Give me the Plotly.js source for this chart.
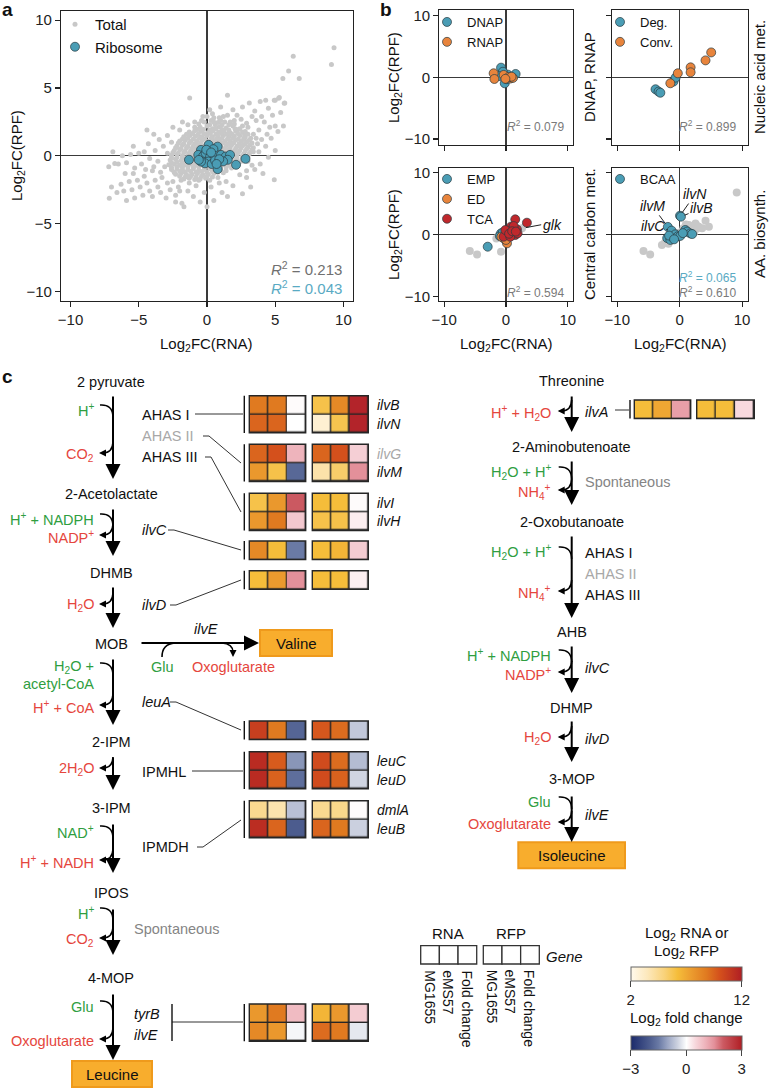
<!DOCTYPE html>
<html><head><meta charset="utf-8">
<script src="https://cdn.plot.ly/plotly-3.0.1.min.js"></script>
<style>html,body{margin:0;padding:0;background:#fff}#chart{width:770px;height:1088px}</style>
</head><body><div id="chart"></div>
<script>
// ================= DATA =================
// Panel a: all genes (Log2FC RNA, Log2FC RPF)
const totalPoints = [
[-0.5,2.1],[0.0,2.2],[0.4,2.0],[0.9,2.15],[1.4,2.05],[1.9,2.2],[2.3,1.95],
[-1.3,1.75],[-0.9,1.85],[-0.45,1.8],[0.05,1.7],[0.45,1.85],[0.85,1.75],[1.25,1.8],[1.7,1.7],[2.1,1.85],[2.6,1.75],[3.0,1.6],
[-1.7,1.4],[-1.25,1.5],[-0.85,1.45],[-0.4,1.4],[0.0,1.5],[0.4,1.4],[0.8,1.45],[1.2,1.5],[1.6,1.4],[2.0,1.45],[2.4,1.5],[2.8,1.35],[3.2,1.3],
[-2.0,1.1],[-1.6,1.15],[-1.2,1.05],[-0.75,1.1],[-0.35,1.15],[0.1,1.05],[0.5,1.1],[0.9,1.15],[1.3,1.05],[1.7,1.1],[2.1,1.15],[2.5,1.05],[2.9,1.0],[3.3,0.95],
[-2.2,0.75],[-1.8,0.8],[-1.4,0.7],[-1.0,0.75],[-0.6,0.8],[-0.2,0.7],[0.2,0.75],[0.6,0.8],[1.0,0.7],[1.4,0.75],[1.8,0.8],[2.2,0.7],[2.6,0.75],[3.0,0.65],[3.4,0.6],
[-2.4,0.4],[-2.0,0.45],[-1.6,0.35],[-1.2,0.4],[-0.8,0.45],[-0.4,0.35],[0.0,0.4],[0.4,0.45],[0.8,0.35],[1.2,0.4],[1.6,0.45],[2.0,0.35],[2.4,0.4],[2.8,0.35],[3.2,0.3],
[-2.6,0.05],[-2.2,0.1],[-1.8,0.0],[-1.4,0.05],[-1.0,0.1],[-0.6,0.0],[-0.2,0.05],[0.2,0.1],[0.6,0.0],[1.0,0.05],[1.4,0.1],[1.8,0.0],[2.2,0.05],[2.6,0.0],[3.0,-0.05],
[-2.7,-0.3],[-2.3,-0.25],[-1.9,-0.35],[-1.5,-0.3],[-1.1,-0.25],[-0.7,-0.35],[-0.3,-0.3],[0.1,-0.25],[0.5,-0.35],[0.9,-0.3],[1.3,-0.25],[1.7,-0.35],[2.1,-0.3],[2.5,-0.4],
[-2.8,-0.65],[-2.4,-0.6],[-2.0,-0.7],[-1.6,-0.65],[-1.2,-0.6],[-0.8,-0.7],[-0.4,-0.65],[0.0,-0.6],[0.4,-0.7],[0.8,-0.65],[1.2,-0.6],[1.6,-0.7],[2.0,-0.75],
[-2.6,-1.0],[-2.2,-0.95],[-1.8,-1.05],[-1.4,-1.0],[-1.0,-0.95],[-0.6,-1.05],[-0.2,-1.0],[0.2,-0.95],[0.6,-1.05],[1.0,-1.0],[1.4,-1.1],
[-2.3,-1.35],[-1.9,-1.3],[-1.5,-1.4],[-1.1,-1.35],[-0.7,-1.3],[-0.3,-1.4],[0.1,-1.35],[0.5,-1.3],
[-1.7,-1.7],[-1.3,-1.65],[-0.9,-1.75],[-0.5,-1.7],[-0.1,-1.65],
[-0.2,2.5],[0.3,2.6],[0.8,2.45],[1.3,2.5],[0.0,2.9],[-0.6,2.35],
[-0.7,1.95],[-0.25,1.95],[0.2,1.9],[0.65,2.0],[1.1,1.95],[1.6,1.9],[2.05,2.0],
[-1.5,1.6],[-1.05,1.65],[-0.65,1.6],[-0.2,1.6],[0.25,1.65],[0.65,1.6],[1.05,1.65],[1.45,1.6],[1.85,1.6],[2.25,1.65],[2.75,1.55],
[-1.8,1.25],[-1.4,1.3],[-1.0,1.25],[-0.55,1.3],[-0.15,1.25],[0.3,1.3],[0.7,1.25],[1.1,1.3],[1.5,1.25],[1.9,1.3],[2.3,1.25],[2.7,1.2],[3.1,1.15],
[-2.1,0.95],[-1.7,0.9],[-1.3,0.95],[-0.9,0.9],[-0.45,0.95],[-0.05,0.9],[0.35,0.95],[0.75,0.9],[1.15,0.95],[1.55,0.9],[1.95,0.95],[2.35,0.9],[2.75,0.85],[3.15,0.8],
[-2.3,0.6],[-1.9,0.55],[-1.5,0.6],[-1.1,0.55],[-0.7,0.6],[-0.3,0.55],[0.1,0.6],[0.5,0.55],[0.9,0.6],[1.3,0.55],[1.7,0.6],[2.1,0.55],[2.5,0.6],[2.9,0.5],[3.3,0.45],
[-2.5,0.25],[-2.1,0.2],[-1.7,0.25],[-1.3,0.2],[-0.9,0.25],[-0.5,0.2],[-0.1,0.25],[0.3,0.2],[0.7,0.25],[1.1,0.2],[1.5,0.25],[1.9,0.2],[2.3,0.25],[2.7,0.15],[3.1,0.15],
[-2.6,-0.15],[-2.2,-0.1],[-1.8,-0.15],[-1.4,-0.1],[-1.0,-0.15],[-0.6,-0.1],[-0.2,-0.15],[0.2,-0.1],[0.6,-0.15],[1.0,-0.1],[1.4,-0.15],[1.8,-0.1],[2.2,-0.15],[2.6,-0.2],
[-2.6,-0.5],[-2.2,-0.45],[-1.8,-0.5],[-1.4,-0.45],[-1.0,-0.5],[-0.6,-0.45],[-0.2,-0.5],[0.2,-0.45],[0.6,-0.5],[1.0,-0.45],[1.4,-0.5],[1.8,-0.55],[2.2,-0.55],
[-2.6,-0.85],[-2.2,-0.8],[-1.8,-0.85],[-1.4,-0.8],[-1.0,-0.85],[-0.6,-0.8],[-0.2,-0.85],[0.2,-0.8],[0.6,-0.85],[1.0,-0.8],[1.4,-0.85],[1.8,-0.9],
[-2.4,-1.2],[-2.0,-1.15],[-1.6,-1.2],[-1.2,-1.15],[-0.8,-1.2],[-0.4,-1.15],[0.0,-1.2],[0.4,-1.15],[0.8,-1.2],[1.2,-1.25],
[-2.0,-1.5],[-1.6,-1.55],[-1.2,-1.5],[-0.8,-1.55],[-0.4,-1.5],[0.0,-1.5],[0.4,-1.55],
[0.6,2.3],[1.0,2.6],[1.6,2.3],[2.0,2.35],[2.6,2.2],[-0.4,2.6],[0.5,2.8],[1.2,2.9],
[9.31,7.96],[9.12,6.74],[6.32,7.35],[5.98,6.25],[6.76,5.71],[5.56,5.71],[-1.27,4.27],[1.5,4.47],[5.25,4.25],[4.93,4.1],[5.66,3.88],
[2.6,3.6],[3.1,3.9],[3.5,3.3],[3.9,4.0],[4.3,4.1],[4.5,3.5],[4.0,2.9],[3.6,2.6],[4.8,3.0],[5.0,2.2],[4.6,2.1],[4.2,2.5],[3.3,2.9],[2.9,2.4],[3.8,1.9],[4.4,1.6],[5.2,1.8],[5.6,2.2],[5.4,3.2],[5.0,4.1],[5.3,4.3],[5.7,3.9],
[2.2,3.0],[1.9,3.4],[1.0,3.6],[0.4,3.1],[0.9,2.8],[1.5,3.0],[2.5,2.7],[3.0,2.1],[3.4,1.6],[4.0,1.2],[4.7,1.3],[3.7,0.9],[4.3,0.7],[5.0,0.4],[4.5,-0.1],[3.9,-0.6],[3.5,-1.0],[4.1,-1.3],[2.9,-1.6],[2.4,-1.4],[3.2,-2.3],[2.6,-2.8],[1.9,-2.2],[1.5,-3.0],[4.93,-1.76],[2.0,2.6],[-0.3,2.9],[-0.9,2.5],[-1.4,2.3],[0.2,3.4],[0.5,2.5],
[-4.4,1.9],[-3.5,1.2],[-2.9,1.5],[-3.2,0.7],[-3.8,0.4],[-4.3,0.9],[-5.0,0.2],[-5.6,0.1],[-6.2,0.0],[-6.9,0.3],[-6.76,-0.56],[-6.5,-0.6],[-5.9,-0.5],[-5.3,-0.9],[-4.8,-0.6],[-4.2,-0.2],[-3.6,-0.4],[-3.1,-0.8],[-3.4,-1.2],[-4.0,-1.1],[-4.6,-1.5],[-5.1,-1.8],[-5.7,-1.9],[-6.3,-2.1],[-7.0,-2.3],[-6.6,-2.7],[-7.16,-3.13],[-6.1,-2.6],[-5.5,-2.5],[-4.9,-2.3],[-4.4,-2.0],[-3.8,-1.8],[-3.3,-1.6],[-2.9,-2.0],[-3.6,-2.3],[-4.2,-2.6],[-4.7,-2.9],[-5.3,-3.1],[-5.9,-3.3],[-4.0,-3.0],[-3.4,-2.7],[-2.7,-2.5],[-2.3,-2.9],[-1.84,-3.5],[-1.69,-3.76],[-2.3,-3.4],[-3.0,-3.1],[-2.5,-1.9],[-2.1,-2.3],[-1.4,-2.6],[-0.8,-2.2],[-0.2,-2.7],[0.3,-2.3],[0.9,-2.0],[0.0,-3.76],[0.5,-3.3],[1.1,-2.7],[-1.0,-3.0],[-0.5,-3.4],[-2.6,1.0],[-2.9,0.2],[-2.4,-1.2],[-1.9,-1.8],[-1.3,-2.0],[-0.6,-1.8],[0.2,-1.8],[0.8,-1.6],[1.4,-1.9],[-3.9,1.6],[-2.5,2.1],[-2.0,1.9],[-1.8,2.5],[-5.4,0.7],[-4.6,0.3],[-7.2,-0.8],[-6.0,-1.3],[-5.4,-1.3],[-4.5,-1.0],[-3.9,-0.8],[-2.0,-2.6],[-1.5,-1.5],[3.0,-0.4],[3.4,0.3],[3.8,0.3],[3.6,1.3],[2.8,1.8],[-0.9,2.1],[0.2,2.3],[1.1,2.3],[1.7,2.5],[2.4,2.0],[2.7,1.3],[3.3,-0.7],[2.9,-1.1]
];
const ribosomePoints = [
[-1.32,-0.29],[-0.44,0.44],[0.12,0.81],[0.78,0.68],[0.47,0.49],[-0.64,0.07],[-0.28,-0.02],[-0.1,0.2],[0.22,-0.1],[0.55,0.0],[0.1,-0.42],[-0.15,-0.55],[0.35,-0.6],[1.03,0.07],[1.37,-0.05],[1.69,0.07],[1.52,-0.29],[1.18,-0.41],[2.13,-0.66],[2.82,-0.22],[0.78,-0.98],[-0.44,-0.42],[0.59,-0.34],[0.9,-0.25],[-0.05,0.45],[0.3,0.25],[-0.6,-0.3],[0.7,-0.6]
];
// Panel b
const dnapPoints = [[-0.8,1.56],[1.56,0.54],[-0.2,-0.97],[0.3,0.43],[-0.5,0.9],[0.1,-0.3],[-1.1,0.2]];
const rnapPoints = [[-2.0,0.65],[-1.88,-0.27],[-0.38,0.38],[0.7,-0.2],[1.13,-0.1],[0.43,0.05],[0.9,0.1],[-0.1,-0.25]];
const degPoints = [[-3.87,-1.94],[-3.39,-2.31],[-3.1,-2.5],[-1.0,-0.7],[-0.65,-0.05]];
const convPoints = [[-1.5,-0.97],[-0.3,0.65],[1.75,1.61],[1.75,0.81],[4.14,2.74],[5.05,4.03]];
const centralOtherPoints = [[-5.86,-2.69],[-4.68,-3.23],[-0.81,-2.8],[-1.56,-0.65],[2.6,0.97],[-1.2,-0.2],[0.9,0.9]];
const empPoints = [[-2.96,-1.99],[-0.81,0.16],[-1.0,-0.27],[-0.5,0.3]];
const edPoints = [[0.16,-1.45],[-0.38,-0.65],[-0.75,-0.38],[0.0,-0.9]];
const tcaPoints = [[1.5,2.42],[3.39,1.88],[0.81,1.24],[1.24,0.7],[1.77,0.81],[0.43,0.54],[0.97,0.16],[1.5,-0.1],[0.16,-0.1],[-0.38,-0.38],[0.7,-0.38],[1.88,0.16],[1.24,1.34],[-0.1,0.7],[0.5,0.1],[1.0,0.5],[1.6,0.45]];
const aaOtherPoints = [[9.14,6.77],[-5.8,-2.69],[-4.73,-3.23],[-2.85,-1.72],[-2.4,-1.4],[-2.0,-1.0],[-1.6,-1.2],[-1.2,-0.6],[-0.6,-0.4],[0.3,0.4],[0.6,1.0],[1.0,1.6],[1.45,1.5],[1.6,0.9],[2.0,0.7],[2.53,1.77],[2.9,1.3],[3.06,1.24],[3.6,1.0],[4.14,2.2],[4.68,1.24],[2.3,0.3],[1.2,0.2],[0.8,0.5],[-0.3,0.2],[1.9,1.3],[2.7,0.9],[-1.8,-1.5]];
const bcaaPoints = [[0.05,3.0],[0.2,2.85],[-1.9,1.2],[-1.3,0.6],[-2.0,-0.6],[-1.5,-0.9],[-1.1,-0.4],[-0.7,0.0],[-0.3,-0.3],[0.1,-0.25],[0.9,0.7],[1.2,0.45],[1.7,0.15],[2.0,0.05],[0.5,0.2],[-1.7,-0.2],[-0.9,-0.8]];
const bcaaLabelled = {ilvN:[0.05,3.0], ilvB:[0.2,2.85], ilvM:[-1.9,1.2], ilvC:[-1.3,0.6]};
const glkPoint = [2.6,0.97];
const r2Labels = {aTotal:'0.213', aRibo:'0.043', dnap:'0.079', nucl:'0.899', central:'0.594', bcaa:'0.065', aa:'0.610'};

// Panel c: heat map values (log2 abundance, log2 fold change)
const genes      = ['ilvB','ilvN','ilvG','ilvM','ilvI','ilvH','ilvC','ilvD','leuA','leuC','leuD','dmlA','leuB','tyrB','ilvE','ilvA'];
const rnaMG1655  = [8.8, 9.4, 9.4, 7.6, 5.9, 7.6, 8.2, 6.2, 10.7, 11.5, 11.5, 4.5, 11.4, 7.6, 8.2, 6.2];
const rnaEMS57   = [8.8, 9.4, 10.0, 5.9, 7.6, 8.8, 6.2, 7.5, 8.8, 9.7, 9.5, 3.8, 9.4, 8.8, 7.6, 7.0];
const rnaFC      = [0.05, 0.0, 1.0, -1.8, 2.0, 0.7, -1.5, 1.5, -1.85, -1.2, -1.7, -0.7, -2.0, 0.9, -0.1, 1.3];
const rfpMG1655  = [5.9, 2.8, 9.4, 3.9, 6.2, 5.9, 6.2, 6.2, 9.8, 10.2, 10.2, 4.5, 9.4, 6.5, 9.2, 6.2];
const rfpEMS57   = [8.2, 5.8, 10.0, 5.3, 6.2, 5.9, 6.5, 6.2, 9.2, 9.2, 9.5, 4.6, 8.8, 7.6, 8.8, 6.2];
const rfpFC      = [2.9, 2.9, 0.6, 1.5, 0.05, 0.2, 0.65, 0.2, -0.6, -0.75, -0.45, 0.05, -0.5, 0.65, -0.25, 0.45];
const geneGroups = [['ilvB','ilvN'],['ilvG','ilvM'],['ilvI','ilvH'],['ilvC'],['ilvD'],['leuA'],['leuC','leuD'],['dmlA','leuB'],['tyrB','ilvE'],['ilvA']];
const columns    = ['MG1655','eMS57','Fold change'];

// ================= LAYOUT HELPERS =================
const W = 770, H = 1088;
const FONT = 'Liberation Sans, Arial, Helvetica, sans-serif';
const X = v => v / W;
const Y = v => 1 - v / H;
const dX = (a, b) => [a / W, b / W];
const dY = (t, b) => [1 - b / H, 1 - t / H];
const GREEN = '#2f9e3f', RED = '#e5463d', GREY = '#858585', LGREY = '#a8a8a8';
const BLUE = '#4a9db5', ORANGE = '#e8843c', DRED = '#c0282c', PGREY = '#c8c8c8';

function T(x, y, text, o = {}) {
  return {xref:'paper', yref:'paper', x:X(x), y:Y(y), text, showarrow:false,
    xanchor:o.xa || 'center', yanchor:o.ya || 'middle', textangle:o.angle || 0,
    font:{family:FONT, size:o.size || 14, color:o.color || '#111'}};
}
function arrowAnn(x0, y0, x1, y1, w, s) {
  return {xref:'paper', yref:'paper', x:X(x1), y:Y(y1), ax:x0 - x1, ay:y0 - y1,
    axref:'pixel', ayref:'pixel', text:'', showarrow:true, arrowhead:2,
    arrowsize:s, arrowwidth:w, arrowcolor:'#000', standoff:0, startstandoff:0};
}
function pathPx(pts) {
  return pts.map(seg => {
    const nums = seg.slice(1);
    const coords = [];
    for (let i = 0; i < nums.length; i += 2) coords.push(X(nums[i]) + ',' + Y(nums[i + 1]));
    return seg[0] + ' ' + coords.join(' ');
  }).join(' ');
}
function lineShape(pts, color = '#333', width = 1) {
  return {type:'path', xref:'paper', yref:'paper', layer:'above',
    path: pathPx(pts.map((p, i) => [i ? 'L' : 'M', p[0], p[1]])), line:{color, width}};
}

const annotations = [];
const shapes = [];
const traces = [];

// ================= PANEL a & b scatter =================
const xs = a => a.map(p => p[0]);
const ys = a => a.map(p => p[1]);
function sc(points, name, color, size, xa, ya, legend, outline, showlegend = true) {
  return {type:'scatter', mode:'markers', x:xs(points), y:ys(points), name,
    xaxis:xa, yaxis:ya, legend, showlegend, hoverinfo:'skip',
    marker:{size, color, line: outline ? {color:'#2a3b40', width:0.7} : {width:0}}};
}
traces.push(sc(totalPoints, 'Total', PGREY, 5, 'x', 'y', 'legend', false));
traces.push(sc(ribosomePoints, 'Ribosome', BLUE, 9, 'x', 'y', 'legend', true));
traces.push(sc(dnapPoints, 'DNAP', BLUE, 9, 'x2', 'y2', 'legend2', true));
traces.push(sc(rnapPoints, 'RNAP', ORANGE, 9, 'x2', 'y2', 'legend2', true));
traces.push(sc(degPoints, 'Deg.', BLUE, 9, 'x3', 'y3', 'legend3', true));
traces.push(sc(convPoints, 'Conv.', ORANGE, 9, 'x3', 'y3', 'legend3', true));
traces.push(sc(centralOtherPoints, 'other', PGREY, 8, 'x4', 'y4', 'legend4', false, false));
traces.push(sc(empPoints, 'EMP', BLUE, 9, 'x4', 'y4', 'legend4', true));
traces.push(sc(edPoints, 'ED', ORANGE, 9, 'x4', 'y4', 'legend4', true));
traces.push(sc(tcaPoints, 'TCA', DRED, 9, 'x4', 'y4', 'legend4', true));
traces.push(sc(aaOtherPoints, 'other', PGREY, 8, 'x5', 'y5', 'legend5', false, false));
traces.push(sc(bcaaPoints, 'BCAA', BLUE, 9, 'x5', 'y5', 'legend5', true));

const axBase = {showgrid:false, zeroline:true, zerolinecolor:'#3a3a3a', zerolinewidth:1.1,
  showline:true, mirror:true, linecolor:'#222', linewidth:1.1, ticks:'outside', ticklen:5,
  tickwidth:1.1, tickcolor:'#222', tickfont:{family:FONT, size:15, color:'#222'}, fixedrange:true};
const ax = (o) => Object.assign({}, axBase, o);
const layoutAxes = {
  xaxis: ax({domain:dX(61,353), range:[-10.7,10.7], tickvals:[-10,-5,0,5,10], anchor:'y'}),
  yaxis: ax({domain:dY(10.7,301), range:[-10.7,10.7], tickvals:[-10,-5,0,5,10], anchor:'x'}),
  xaxis2: ax({domain:dX(439.3,573.3), range:[-10.8,10.9], tickvals:[-10,0,10], showticklabels:false, anchor:'y2'}),
  yaxis2: ax({domain:dY(10,144.6), range:[-10.9,10.9], tickvals:[-10,0,10], anchor:'x2'}),
  xaxis3: ax({domain:dX(612.3,747.7), range:[-10.8,10.9], tickvals:[-10,0,10], showticklabels:false, anchor:'y3'}),
  yaxis3: ax({domain:dY(10,144.6), range:[-10.9,10.9], tickvals:[-10,0,10], showticklabels:false, anchor:'x3'}),
  xaxis4: ax({domain:dX(439.3,573.3), range:[-10.8,10.9], tickvals:[-10,0,10], anchor:'y4'}),
  yaxis4: ax({domain:dY(167.7,301), range:[-10.75,10.75], tickvals:[-10,0,10], anchor:'x4'}),
  xaxis5: ax({domain:dX(612.3,747.7), range:[-10.8,10.9], tickvals:[-10,0,10], anchor:'y5'}),
  yaxis5: ax({domain:dY(167.7,301), range:[-10.75,10.75], tickvals:[-10,0,10], showticklabels:false, anchor:'x5'})
};

// axis titles & side labels
const l2rpf = 'Log<sub>2</sub>FC(RPF)', l2rna = 'Log<sub>2</sub>FC(RNA)';
annotations.push(T(18,156,l2rpf,{size:15, angle:-90}));
annotations.push(T(207,344,l2rna,{size:15}));
annotations.push(T(394,77,l2rpf,{size:15, angle:-90}));
annotations.push(T(394,234,l2rpf,{size:15, angle:-90}));
annotations.push(T(506,344,l2rna,{size:15}));
annotations.push(T(680,344,l2rna,{size:15}));
annotations.push(T(589,77,'DNAP, RNAP',{size:15, angle:-90}));
annotations.push(T(759,77,'Nucleic acid met.',{size:15, angle:-90}));
annotations.push(T(589,234,'Central carbon met.',{size:15, angle:-90}));
annotations.push(T(759,234,'AA. biosynth.',{size:15, angle:-90}));
annotations.push(T(7,10,'<b>a</b>',{size:19}));
annotations.push(T(386,10,'<b>b</b>',{size:19}));
annotations.push(T(7,377,'<b>c</b>',{size:19}));
const r2 = v => '<i>R</i><sup>2</sup> = ' + v;
annotations.push(T(344,268,r2(r2Labels.aTotal),{xa:'right', size:15, color:'#707070'}));
annotations.push(T(344,287,r2(r2Labels.aRibo),{xa:'right', size:15, color:'#5aaac3'}));
annotations.push(T(566,126,r2(r2Labels.dnap),{xa:'right', size:12, color:'#7a7a7a'}));
annotations.push(T(738,126,r2(r2Labels.nucl),{xa:'right', size:12, color:'#7a7a7a'}));
annotations.push(T(566,292,r2(r2Labels.central),{xa:'right', size:12, color:'#7a7a7a'}));
annotations.push(T(738,277,r2(r2Labels.bcaa),{xa:'right', size:12, color:'#5aaac3'}));
annotations.push(T(738,292,r2(r2Labels.aa),{xa:'right', size:12, color:'#7a7a7a'}));

// gene labels in panel b (pointer lines)
function ptr(xa, ya, pt, tx, ty, text, xanchor) {
  return {xref:xa, yref:ya, x:pt[0], y:pt[1], ax:tx, ay:ty, axref:xa, ayref:ya, text:'<i>'+text+'</i>',
    showarrow:true, arrowhead:0, arrowwidth:1, arrowcolor:'#222', standoff:4, xanchor:xanchor || 'center',
    font:{family:FONT, size:14, color:'#111'}};
}
annotations.push(ptr('x4','y4',glkPoint,5.7,1.55,'glk','left'));
annotations.push(ptr('x5','y5',bcaaLabelled.ilvN,2.5,6.5,'ilvN'));
annotations.push(ptr('x5','y5',bcaaLabelled.ilvB,3.5,4.2,'ilvB'));
annotations.push(ptr('x5','y5',bcaaLabelled.ilvM,-4.4,4.6,'ilvM'));
annotations.push(ptr('x5','y5',bcaaLabelled.ilvC,-4.3,1.3,'ilvC'));

// ================= PANEL c : heat maps =================
const RNA_CS = [[0,'#fff9ec'],[0.15,'#fde8bb'],[0.3,'#f9d27a'],[0.42,'#f5bd3a'],[0.55,'#eb9a2e'],[0.68,'#e07a20'],[0.8,'#d4501c'],[1,'#b01e24']];
const FC_CS = [[0,'#1b2a6b'],[0.17,'#4d5d8f'],[0.25,'#6a7aa5'],[0.33,'#9ba6c4'],[0.42,'#cdd2e0'],[0.5,'#ffffff'],[0.58,'#f7d7dc'],[0.67,'#eeb3bb'],[0.75,'#e3909a'],[0.83,'#cc5a62'],[1,'#b01e24']];
const ROW = 18.6;
const groupTops = [395.7, 444.3, 493.3, 541, 570.7, 721, 751.7, 800.7, 1004, 400];
const groupLabelled = [true, true, true, false, false, false, true, true, false, false];
const blockLeft  = [[249.3,305.7],[312.3,368.3]];
const blockRight = [[634.3,690.7],[696.7,754.3]];
const cbCommon = {orientation:'h', xanchor:'center', yanchor:'top', len:111, lenmode:'pixels',
  thickness:14, thicknessmode:'pixels', outlinewidth:1, outlinecolor:'#666', ticks:'outside',
  ticklen:6, tickcolor:'#444', tickfont:{family:FONT, size:15, color:'#222'}, xpad:0, ypad:0};

geneGroups.forEach((grp, gi) => {
  const isRight = gi === geneGroups.length - 1;
  const yId = 6 + gi;
  const xIds = isRight ? [8, 9] : [6, 7];
  const n = grp.length;
  const top = groupTops[gi];
  layoutAxes['yaxis' + yId] = {domain:dY(top, top + n * ROW), range:[n - 0.5, -0.5], visible:false,
    fixedrange:true, anchor:'x' + xIds[0]};
  const idx = grp.map(g => genes.indexOf(g));
  const rows = grp.map((g, i) => i);
  const sets = [[rnaMG1655, rnaEMS57, rnaFC], [rfpMG1655, rfpEMS57, rfpFC]];
  sets.forEach((set, bi) => {
    const xa = 'x' + xIds[bi], ya = 'y' + yId;
    const first = gi === 0 && bi === 0;
    traces.push({type:'heatmap', xaxis:xa, yaxis:ya, x:[0, 1], y:rows,
      z: idx.map(k => [set[0][k], set[1][k]]), colorscale:RNA_CS, zmin:2, zmax:12,
      xgap:1.4, ygap:1.4, hoverinfo:'skip', showscale:first,
      colorbar: Object.assign({}, cbCommon, {x:X(686.2), y:Y(966.7), tickvals:[2,12]})});
    traces.push({type:'heatmap', xaxis:xa, yaxis:ya, x:[2], y:rows,
      z: idx.map(k => [set[2][k]]), colorscale:FC_CS, zmin:-3, zmax:3,
      xgap:1.4, ygap:1.4, hoverinfo:'skip', showscale:first,
      colorbar: Object.assign({}, cbCommon, {x:X(686.2), y:Y(1035.7), tickvals:[-3,0,3]})});
    shapes.push({type:'rect', xref:xa + ' domain', yref:ya + ' domain', x0:0, x1:1, y0:0, y1:1,
      fillcolor:'#262626', line:{width:0}, layer:'below'});
    shapes.push({type:'rect', xref:xa + ' domain', yref:ya + ' domain', x0:0, x1:1, y0:0, y1:1,
      fillcolor:'rgba(0,0,0,0)', line:{color:'#262626', width:1.4}, layer:'above'});
  });
  const bx = isRight ? 630 : 244.3;
  shapes.push(lineShape([[bx, top], [bx, top + n * ROW]], '#111', 1.4));
  if (groupLabelled[gi]) {
    grp.forEach((g, i) => annotations.push(T(375, top + (i + 0.5) * ROW, '<i>' + g + '</i>',
      {xa:'left', size:14, color: g === 'ilvG' ? LGREY : '#111'})));
  }
});
[[6,blockLeft[0]],[7,blockLeft[1]],[8,blockRight[0]],[9,blockRight[1]]].forEach(([id, b]) => {
  layoutAxes['xaxis' + id] = {domain:dX(b[0], b[1]), range:[-0.5, 2.5], visible:false, fixedrange:true,
    anchor: id < 8 ? 'y6' : 'y15'};
});

// connectors from enzymes to heat maps
[
 [[195,414],[243,414]],
 [[203,436],[209,436],[241,463]],
 [[205,457],[211,457],[241,512]],
 [[168,530],[174,530],[241,550]],
 [[170,605],[176,605],[241,580]],
 [[170,702],[176,702],[241,730]],
 [[192,771],[243,771]],
 [[197,847],[203,847],[241,820]],
 [[172,1022],[243,1022]],
 [[615,410],[629,410]]
].forEach(p => shapes.push(lineShape(p, '#333', 1)));
shapes.push(lineShape([[172,1004],[172,1041]], '#111', 1.4));

// ================= PANEL c : pathway =================
const XL = 113, XR = 571.7;
[[XL,395,479],[XL,508,556],[XL,586,628],[XL,658,725],[XL,756,790],[XL,823,873],[XL,908,955],[XL,993,1060],
 [XR,395,432],[XR,460,505],[XR,535,618],[XR,645,693],[XR,720,762],[XR,795,842]]
 .forEach(a => annotations.push(arrowAnn(a[0], a[1], a[0], a[2], 2, 1.5)));
annotations.push(arrowAnn(140, 643, 259, 643, 2, 1.5));

function curveIn(xl, y) {
  shapes.push({type:'path', xref:'paper', yref:'paper', layer:'above', line:{color:'#000', width:1.6},
    path: pathPx([['M', xl - 13, y], ['Q', xl - 0.5, y - 1, xl, y + 12]])});
}
function curveOut(xl, y) {
  shapes.push({type:'path', xref:'paper', yref:'paper', layer:'above', line:{color:'#000', width:1.6},
    path: pathPx([['M', xl, y - 11], ['Q', xl - 0.5, y, xl - 10, y]])});
  annotations.push(arrowAnn(xl - 8, y, xl - 14, y, 1.4, 1));
}
[405, 514, 663, 826, 908, 1001].forEach(y => curveIn(XL, y));
[453, 535, 604, 705, 768, 860, 938, 1039].forEach(y => curveOut(XL, y));
[467, 547, 650, 797].forEach(y => curveIn(XR, y));
[411, 490, 591, 672, 737, 822].forEach(y => curveOut(XR, y));
shapes.push({type:'path', xref:'paper', yref:'paper', layer:'above', line:{color:'#000', width:1.6},
  path: pathPx([['M', 162, 657], ['Q', 162, 644, 175, 643]])});
shapes.push({type:'path', xref:'paper', yref:'paper', layer:'above', line:{color:'#000', width:1.6},
  path: pathPx([['M', 222, 643], ['Q', 233, 644, 233, 652]])});
annotations.push(arrowAnn(233, 651, 233, 657, 1.4, 1));

function box(x0, y0, x1, y1, label) {
  shapes.push({type:'rect', xref:'paper', yref:'paper', x0:X(x0), x1:X(x1), y0:Y(y1), y1:Y(y0),
    fillcolor:'#f8ad2d', line:{color:'#ef9a1c', width:2}, layer:'above'});
  annotations.push(T((x0 + x1) / 2, (y0 + y1) / 2, label, {size:15}));
}
box(260, 630, 332, 656, 'Valine');
box(72, 1061, 152, 1087, 'Leucine');
box(518.3, 842.3, 625, 868.3, 'Isoleucine');

[['2 pyruvate',381.7],['2-Acetolactate',494],['DHMB',572.7],['MOB',644],['2-IPM',741.7],['3-IPM',808],['IPOS',893],['4-MOP',978]]
  .forEach(m => annotations.push(T(111, m[1], m[0], {size:14.5})));
[['Threonine',381],['2-Aminobutenoate',446.7],['2-Oxobutanoate',521.7],['AHB',632.3],['DHMP',708],['3-MOP',779]]
  .forEach(m => annotations.push(T(XR, m[1], m[0], {size:14.5})));

const H2O = 'H<sub>2</sub>O', HP = 'H<sup>+</sup>';
[[HP,410,GREEN],['CO<sub>2</sub>',455,RED],[HP+' + NADPH',519,GREEN],['NADP<sup>+</sup>',537,RED],[H2O,605,RED],
 [H2O+' +',667,GREEN],['acetyl-CoA',684,GREEN],[HP+' + CoA',707,RED],['2'+H2O,769,RED],['NAD<sup>+</sup>',831.7,GREEN],
 [HP+' + NADH',861.7,RED],[HP,913,GREEN],['CO<sub>2</sub>',940,RED],['Glu',1006.7,GREEN],['Oxoglutarate',1040.7,RED]]
 .forEach(c => annotations.push(T(96, c[1], c[0], {xa:'right', size:14.5, color:c[2]})));
[[HP+' + '+H2O,412.7,RED],[H2O+' + '+HP,471.7,GREEN],['NH<sub>4</sub><sup>+</sup>',491.7,RED],[H2O+' + '+HP,552.3,GREEN],
 ['NH<sub>4</sub><sup>+</sup>',593.3,RED],[HP+' + NADPH',655,GREEN],['NADP<sup>+</sup>',674,RED],[H2O,738,RED],
 ['Glu',801.7,GREEN],['Oxoglutarate',824,RED]]
 .forEach(c => annotations.push(T(553, c[1], c[0], {xa:'right', size:14.5, color:c[2]})));
annotations.push(T(162, 667, 'Glu', {size:14.5, color:GREEN}));
annotations.push(T(233, 667, 'Oxoglutarate', {size:14.5, color:RED}));

[['AHAS I',140,415,'#111'],['AHAS II',140,436,LGREY],['AHAS III',140,457,'#111'],['<i>ilvC</i>',140,530,'#111'],
 ['<i>ilvD</i>',140,605,'#111'],['<i>leuA</i>',140,702,'#111'],['IPMHL',140,772,'#111'],['IPMDH',140,847,'#111'],
 ['Spontaneous',132,929,GREY],['<i>tyrB</i>',132,1014,'#111'],['<i>ilvE</i>',132,1035,'#111'],
 ['<i>ilvA</i>',583,412,'#111'],['Spontaneous',583,481.7,GREY],['AHAS I',583,553,'#111'],['AHAS II',583,574,LGREY],
 ['AHAS III',583,595,'#111'],['<i>ilvC</i>',583,668,'#111'],['<i>ilvD</i>',583,739,'#111'],['<i>ilvE</i>',583,815,'#111']]
 .forEach(e => annotations.push(T(e[1], e[2], e[0], {xa:'left', size:14.5, color:e[3]})));
annotations.push(T(206, 629, '<i>ilvE</i>', {size:14.5}));

// legend key
annotations.push(T(447.7, 933.3, 'RNA', {size:15}));
annotations.push(T(511, 933.3, 'RFP', {size:15}));
annotations.push(T(544, 956, '<i>Gene</i>', {xa:'left', size:15}));
[420.7, 483.3].forEach(x0 => {
  columns.forEach((c, i) => {
    const a = x0 + i * 18.67;
    shapes.push({type:'rect', xref:'paper', yref:'paper', x0:X(a), x1:X(a + 18.67), y0:Y(964), y1:Y(945.7),
      fillcolor:'#fff', line:{color:'#333', width:1.3}});
    annotations.push(T(a + 9, 968, c, {angle:90, ya:'top', size:14}));
  });
});
annotations.push(T(686, 933, 'Log<sub>2</sub> RNA or', {size:15}));
annotations.push(T(686, 951, 'Log<sub>2</sub> RFP', {size:15}));
annotations.push(T(686, 1018, 'Log<sub>2</sub> fold change', {size:15}));

const lg = (x, y, size) => ({x:X(x), y:Y(y), xanchor:'left', yanchor:'top', bgcolor:'rgba(0,0,0,0)',
  font:{family:FONT, size, color:'#111'}, tracegroupgap:0, itemclick:false, itemdoubleclick:false});

const layout = Object.assign({
  width:W, height:H, margin:{l:0, r:0, t:0, b:0}, paper_bgcolor:'#fff', plot_bgcolor:'#fff',
  font:{family:FONT, color:'#111'}, showlegend:true,
  legend: lg(55, 8, 15),
  legend2: lg(427, 7, 13),
  legend3: lg(600, 7, 13),
  legend4: lg(427, 164, 13),
  legend5: lg(600, 164, 13),
  annotations, shapes
}, layoutAxes);

Plotly.newPlot('chart', traces, layout, {displayModeBar:false, staticPlot:true});
</script>
</body></html>
